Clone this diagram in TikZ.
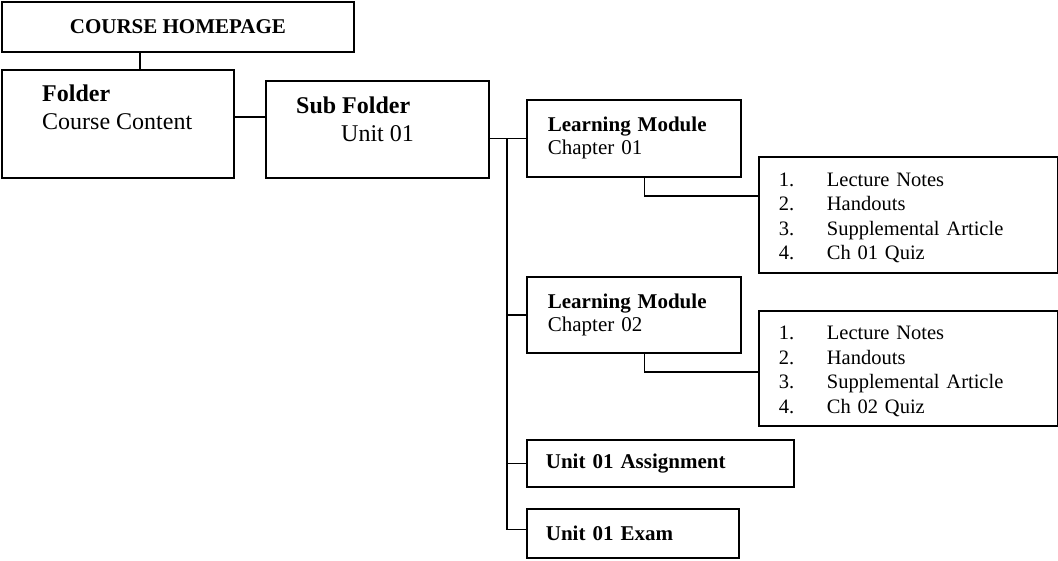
\documentclass[tikz,border=0pt]{standalone}
\usepackage{fontspec}
\setmainfont{Liberation Serif}
\tikzstyle{box} = [rectangle, draw, line width=1.8pt, anchor=north west, inner ysep=0pt, inner xsep=20pt, align=left]
\tikzstyle{line} = [draw, line width=1.8pt]
\tikzstyle{txt} = [anchor=north west, inner sep=0pt, align=left]
\tikzstyle{big} = [font=\fontsize{24}{27.5}\selectfont]
\tikzstyle{mid} = [font=\fontsize{21}{23}\selectfont]
\tikzstyle{small} = [font=\fontsize{20.5}{24.5}\selectfont]

\begin{document}
\begin{tikzpicture}[x=1pt, y=-1pt]
      \useasboundingbox (0,0) rectangle (1058,560);
      \node [box, mid, align=center, minimum width=352pt, minimum height=50pt] (home) at (1,1) {\textbf{COURSE HOMEPAGE}};
      \node [box, minimum width=232pt, minimum height=108pt] (folder) at (1,69) {};
      \node [txt, big] (folderTxt) at (42,85) {\textbf{Folder}\\Course Content};
      \node [box, minimum width=223pt, minimum height=97pt] (sub) at (265,80) {};
      \node [txt, big] (subTxt) at (296,97) {\textbf{Sub Folder}\\\hspace*{45pt}Unit 01};
      \node [box, mid, text width=172pt, inner xsep=21pt, minimum height=77pt] (lm1) at (526,99) {\textbf{Learning Module}\\Chapter 01};
      \node [box, mid, text width=172pt, inner xsep=21pt, minimum height=76pt] (lm2) at (526,276) {\textbf{Learning Module}\\Chapter 02};
      \node [box, small, text width=259pt, minimum height=116pt] (list1) at (758,156)
            {\rule{0pt}{20pt}\makebox[48pt][l]{1.}Lecture Notes\\\makebox[48pt][l]{2.}Handouts\\\makebox[48pt][l]{3.}Supplemental Article\\\makebox[48pt][l]{4.}Ch 01 Quiz};
      \node [box, small, text width=259pt, minimum height=115pt] (list2) at (758,310)
            {\rule{0pt}{20pt}\makebox[48pt][l]{1.}Lecture Notes\\\makebox[48pt][l]{2.}Handouts\\\makebox[48pt][l]{3.}Supplemental Article\\\makebox[48pt][l]{4.}Ch 02 Quiz};
      \node [box, mid, text width=229pt, inner xsep=19pt, minimum height=47pt] (assign) at (526,439) {\textbf{Unit 01 Assignment}};
      \node [box, mid, text width=174pt, inner xsep=19pt, minimum height=49pt] (exam) at (526,508) {\textbf{Unit 01 Exam}};

      \coordinate (hf) at (140,0);
      \coordinate (fs) at (0,117);
      \coordinate (trunk) at (507,0);
      \path [line] (home.south -| hf) -- (folder.north -| hf);
      \path [line] (folder.east |- fs) -- (sub.west |- fs);
      \path [line] (sub.east |- lm1.west) -- (lm1.west);
      \path [line] (lm1.west -| trunk) |- ([yshift=4pt]exam.west);
      \path [line] (lm2.west -| trunk) -- (lm2.west);
      \path [line] (assign.west -| trunk) -- (assign.west);
      \path [line] ([xshift=10.5pt]lm1.south) -- ++(0,18) coordinate (k1) -- (k1 -| list1.west);
      \path [line] ([xshift=10.5pt]lm2.south) -- ++(0,18) coordinate (k2) -- (k2 -| list2.west);
\end{tikzpicture}
\end{document}
